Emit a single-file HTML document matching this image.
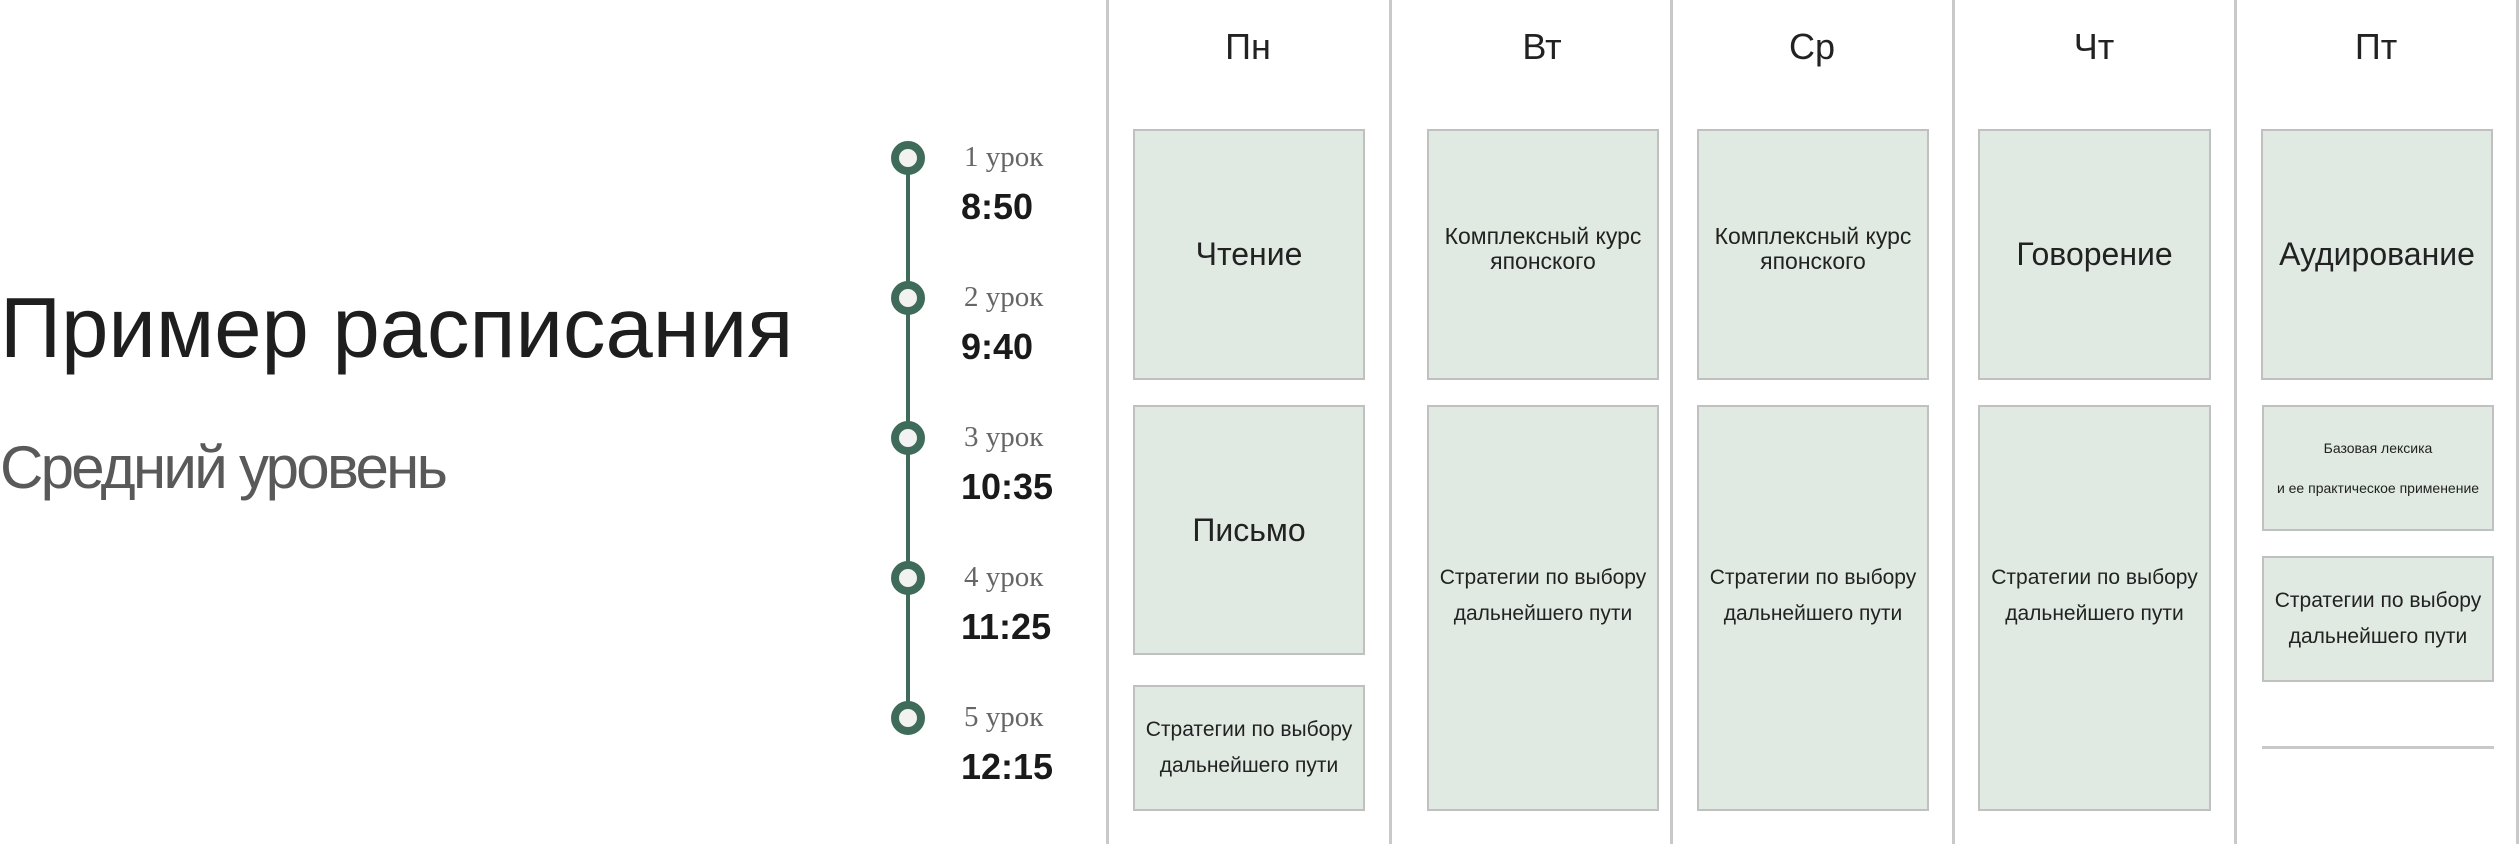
<!DOCTYPE html>
<html><head><meta charset="utf-8"><style>
*{margin:0;padding:0;box-sizing:border-box}
body{width:2520px;height:844px;background:#fff;position:relative;overflow:hidden;font-family:"Liberation Sans",sans-serif;color:#222}
.a{position:absolute}
.vl{position:absolute;top:0;width:3px;height:844px;background:#c9c9c9}
.box{position:absolute;background:#e0eae2;border:2px solid #c0c0c0;display:flex;align-items:center;justify-content:center;text-align:center}
.hd{position:absolute;top:26px;font-size:36px;width:280px;text-align:center}
.big{font-size:32px}
.km{font-size:23px;line-height:25px}
.st{font-size:21px;line-height:36px}
.dot{position:absolute;width:34px;height:34px;border-radius:50%;border:8px solid #3f6b5b;background:#f2f2f2;left:891px}
.les{position:absolute;left:964px;font-family:"Liberation Serif",serif;font-size:29px;color:#666}
.tm{position:absolute;left:961px;font-size:36px;color:#1a1a1a;font-weight:bold}
</style></head><body>
<div class="a" style="left:0;top:280px;font-size:85px;color:#1e1e1e;white-space:nowrap">Пример расписания</div>
<div class="a" style="left:0;top:433px;font-size:60px;color:#595959;letter-spacing:-2.7px;white-space:nowrap">Средний уровень</div>

<div class="a" style="left:906px;top:157px;width:4px;height:560px;background:#3f6b5b"></div>
<div class="dot" style="top:141px"></div>
<div class="dot" style="top:281px"></div>
<div class="dot" style="top:421px"></div>
<div class="dot" style="top:561px"></div>
<div class="dot" style="top:701px"></div>
<div class="les" style="top:141px">1 урок</div><div class="tm" style="top:186px">8:50</div>
<div class="les" style="top:281px">2 урок</div><div class="tm" style="top:326px">9:40</div>
<div class="les" style="top:421px">3 урок</div><div class="tm" style="top:466px">10:35</div>
<div class="les" style="top:561px">4 урок</div><div class="tm" style="top:606px">11:25</div>
<div class="les" style="top:701px">5 урок</div><div class="tm" style="top:746px">12:15</div>

<div class="vl" style="left:1106px"></div>
<div class="vl" style="left:1389px"></div>
<div class="vl" style="left:1670px"></div>
<div class="vl" style="left:1952px"></div>
<div class="vl" style="left:2234px"></div>
<div class="vl" style="left:2516px"></div>

<div class="hd" style="left:1108px">Пн</div>
<div class="hd" style="left:1402px">Вт</div>
<div class="hd" style="left:1672px">Ср</div>
<div class="hd" style="left:1954px">Чт</div>
<div class="hd" style="left:2236px">Пт</div>

<div class="box big" style="left:1133px;top:129px;width:232px;height:251px">Чтение</div>
<div class="box big" style="left:1133px;top:405px;width:232px;height:250px">Письмо</div>
<div class="box st" style="left:1133px;top:685px;width:232px;height:126px">Стратегии по выбору<br>дальнейшего пути</div>

<div class="box km" style="left:1427px;top:129px;width:232px;height:251px"><div style="margin-top:-12px">Комплексный курс<br>японского</div></div>
<div class="box st" style="left:1427px;top:405px;width:232px;height:406px"><div style="margin-top:-24px">Стратегии по выбору<br>дальнейшего пути</div></div>

<div class="box km" style="left:1697px;top:129px;width:232px;height:251px"><div style="margin-top:-12px">Комплексный курс<br>японского</div></div>
<div class="box st" style="left:1697px;top:405px;width:232px;height:406px"><div style="margin-top:-24px">Стратегии по выбору<br>дальнейшего пути</div></div>

<div class="box big" style="left:1978px;top:129px;width:233px;height:251px">Говорение</div>
<div class="box st" style="left:1978px;top:405px;width:233px;height:406px"><div style="margin-top:-24px">Стратегии по выбору<br>дальнейшего пути</div></div>

<div class="box big" style="left:2261px;top:129px;width:232px;height:251px">Аудирование</div>
<div class="box" style="left:2262px;top:405px;width:232px;height:126px;font-size:14px;line-height:40px">Базовая лексика<br>и ее практическое применение</div>
<div class="box st" style="left:2262px;top:556px;width:232px;height:126px">Стратегии по выбору<br>дальнейшего пути</div>
<div class="a" style="left:2262px;top:746px;width:232px;height:3px;background:#c9c9c9"></div>
</body></html>
